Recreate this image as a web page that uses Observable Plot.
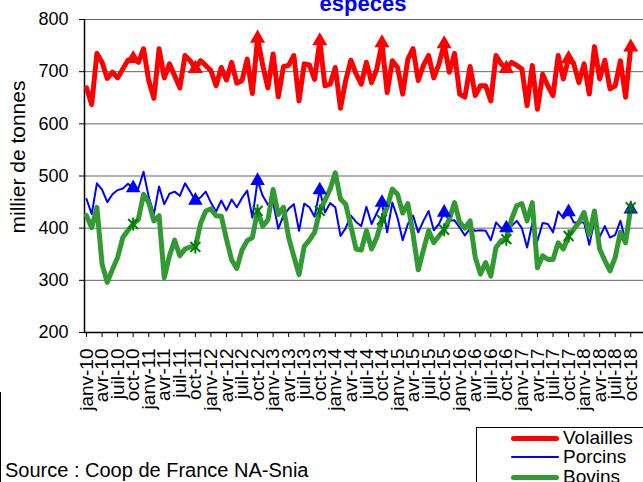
<!DOCTYPE html>
<html>
<head>
<meta charset="utf-8">
<script src="https://cdn.jsdelivr.net/npm/d3@7"></script>
<script src="https://cdn.jsdelivr.net/npm/@observablehq/plot@0.6"></script>
<style>
  html, body { margin: 0; padding: 0; background: white; }
  body { width: 643px; height: 482px; overflow: hidden; position: relative; font-family: "Liberation Sans", Arial, sans-serif; }
  #title { position: absolute; left: 363px; top: -7px; transform: translateX(-50%); font-size: 22px; line-height: 22px; font-weight: bold; color: #0000ff; white-space: nowrap; z-index: 2; }
  #ylabel { position: absolute; left: 18px; top: 157px; transform: translate(-50%, -50%) rotate(-90deg); font-size: 21px; white-space: nowrap; }
  #bottom { position: relative; height: 55px; }
  #source { position: absolute; left: 5px; top: 33px; font-size: 20px; line-height: 20px; white-space: nowrap; }
  #legend { position: absolute; left: 476px; top: 0px; width: 200px; height: 80px; border: 1px solid black; box-sizing: border-box; background: white; }
  .row { position: absolute; left: 0; height: 20px; width: 200px; }
  .sw { position: absolute; left: 34px; width: 48px; border-radius: 3px; }
  .lt { position: absolute; left: 86px; font-size: 19px; line-height: 20px; white-space: nowrap; top: 0; }
  #border { position: absolute; left: 0; top: 392px; width: 1px; height: 90px; background: black; }
</style>
</head>
<body>
<div id="title">especes</div>
<div id="ylabel">millier de tonnes</div>
<div id="chart"></div>
<div id="bottom">
  <div id="source">Source : Coop de France NA-Snia</div>
  <div id="legend"></div>
</div>
<div id="border"></div>
<script>
// Categories: monthly, janv-10 .. oct-18
const quarterNames = ["janv", "avr", "juil", "oct"];
const years = ["10", "11", "12", "13", "14", "15", "16", "17", "18"];
const seriesNames = ["Volailles", "Porcins", "Bovins"];
const seriesColors = ["#ff0000", "#0000ff", "#339933"];
const yTicks = [200, 300, 400, 500, 600, 700, 800];

const volailles = [
  669, 637, 735, 718, 687, 699, 688, 705, 722, 725, 718, 744,
  683, 649, 744, 688, 715, 692, 669, 731, 721, 706, 721, 712,
  702, 673, 708, 684, 718, 678, 683, 724, 658, 764, 712, 669,
  734, 652, 710, 712, 731, 644, 715, 713, 685, 759, 673, 676,
  708, 630, 683, 722, 696, 676, 718, 679, 705, 755, 660, 721,
  708, 657, 724, 744, 683, 712, 731, 688, 715, 753, 699, 735,
  657, 651, 710, 654, 673, 673, 644, 731, 715, 706, 718, 712,
  705, 635, 712, 628, 695, 673, 654, 731, 686, 725, 715, 679,
  715, 657, 748, 686, 722, 667, 673, 721, 651, 747
];
const porcins = [
  456, 427, 486, 474, 450, 465, 473, 476, 485, 477, 476, 508,
  460, 427, 480, 446, 466, 470, 462, 486, 470, 453, 459, 470,
  449, 432, 453, 434, 455, 440, 458, 472, 420, 491, 462, 445,
  449, 399, 424, 437, 446, 395, 447, 440, 422, 473, 430, 448,
  440, 385, 400, 424, 412, 404, 441, 408, 429, 449, 392, 449,
  420, 377, 408, 424, 392, 414, 433, 396, 408, 430, 414, 415,
  401, 386, 399, 395, 396, 395, 377, 411, 400, 400, 404, 414,
  400, 363, 409, 376, 410, 408, 392, 432, 419, 431, 411, 411,
  411, 368, 414, 383, 404, 382, 387, 414, 376, 436
];
const bovins = [
  424, 401, 440, 331, 296, 321, 344, 382, 396, 408, 417, 465,
  449, 414, 424, 305, 347, 377, 347, 360, 364, 364, 409, 433,
  437, 424, 423, 379, 339, 323, 358, 376, 382, 433, 404, 416,
  474, 426, 440, 382, 346, 311, 365, 377, 392, 433, 453, 475,
  506, 456, 446, 404, 360, 358, 395, 360, 382, 416, 440, 475,
  465, 429, 447, 388, 320, 358, 395, 372, 385, 397, 417, 449,
  411, 400, 414, 344, 312, 334, 308, 363, 376, 379, 417, 443,
  447, 414, 449, 324, 347, 340, 340, 372, 360, 385, 398, 411,
  430, 388, 433, 360, 338, 318, 344, 392, 372, 440
];

const data = volailles.map((v, i) => ({m: i, v, p: porcins[i], b: bovins[i]}));
const octobre = data.filter(d => d.m % 12 === 9);
const tickMonths = d3.range(0, volailles.length, 3);
const tickLabel = m => quarterNames[(m % 12) / 3] + "-" + years[Math.floor(m / 12)];

// Excel-like star marker: X plus vertical bar
const star = {
  draw(ctx, size) {
    const h = Math.sqrt(size / Math.PI) * 1.2;
    const d = h * 0.75;
    ctx.moveTo(-d, -d); ctx.lineTo(d, d);
    ctx.moveTo(-d, d); ctx.lineTo(d, -d);
    ctx.moveTo(0, -h); ctx.lineTo(0, h);
  }
};

const x0 = -0.39, x1 = 107.46;

const chart = Plot.plot({
  width: 643,
  height: 427,
  marginLeft: 84,
  marginRight: 0,
  marginTop: 19,
  marginBottom: 95,
  style: {fontFamily: "'Liberation Sans', Arial, sans-serif", color: "black", background: "transparent", overflow: "visible"},
  x: {type: "linear", domain: [x0, x1]},
  y: {domain: [200, 800]},
  marks: [
    Plot.ruleY(yTicks.slice(1), {stroke: "#666666", strokeWidth: 1}),
    Plot.axisY({ticks: yTicks, tickSize: 5, tickPadding: 11, fontSize: 18, label: null, stroke: "black"}),
    Plot.axisX({ticks: tickMonths, tickFormat: tickLabel, tickRotate: -90, tickSize: 5, tickPadding: 11, fontSize: 19, label: null, stroke: "black"}),
    Plot.ruleX([x0], {y1: 200, y2: 800, stroke: "black", strokeWidth: 1.5}),
    Plot.ruleY([200], {stroke: "black", strokeWidth: 1.5}),
    Plot.line(data, {x: "m", y: "v", stroke: seriesColors[0], strokeWidth: 5}),
    Plot.line(data, {x: "m", y: "p", stroke: seriesColors[1], strokeWidth: 2}),
    Plot.line(data, {x: "m", y: "b", stroke: seriesColors[2], strokeWidth: 5}),
    Plot.dot(octobre, {x: "m", y: "v", symbol: "triangle", r: 5.6, fill: seriesColors[0], stroke: "none"}),
    Plot.dot(octobre, {x: "m", y: "p", symbol: "triangle", r: 5.4, fill: seriesColors[1], stroke: "none"}),
    Plot.dot(octobre, {x: "m", y: "b", symbol: star, r: 5.5, fill: "none", stroke: "#008000", strokeWidth: 2})
  ]
});
document.getElementById("chart").appendChild(chart);

// Legend
const legend = document.getElementById("legend");
const rowTops = [0, 19, 39];
const widths = [5, 2, 5];
seriesNames.forEach((name, i) => {
  const row = document.createElement("div");
  row.className = "row";
  row.style.top = rowTops[i] + "px";
  const sw = document.createElement("div");
  sw.className = "sw";
  sw.style.height = widths[i] + "px";
  sw.style.top = (10 - widths[i] / 2) + "px";
  sw.style.background = seriesColors[i];
  const lt = document.createElement("div");
  lt.className = "lt";
  lt.textContent = name;
  row.appendChild(sw);
  row.appendChild(lt);
  legend.appendChild(row);
});
</script>
</body>
</html>
